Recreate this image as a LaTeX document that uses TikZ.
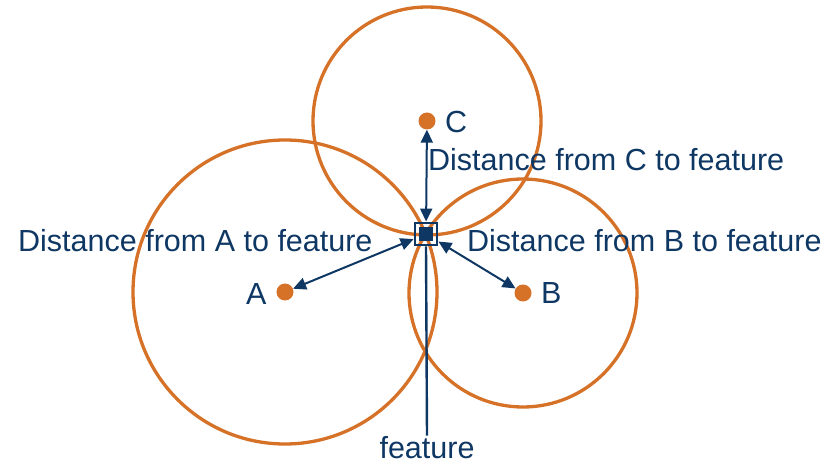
\documentclass[tikz,border=0pt]{standalone}
\usepackage{fontspec}
\setmainfont{Liberation Sans}
\usepackage{xcolor}
\usetikzlibrary{arrows.meta,positioning}
\definecolor{navy}{RGB}{14,55,100}
\definecolor{rust}{RGB}{214,113,40}
\tikzset{
  ring/.style  ={draw=rust, line width=3.3pt},
  dot/.style   ={circle, fill=rust, minimum size=17pt, inner sep=0pt},
  feat/.style  ={rectangle, fill=navy, minimum size=14pt, inner sep=0pt},
  frame/.style ={rectangle, draw=navy, line width=2.8pt, minimum size=22pt, inner sep=0pt},
  lbl/.style   ={text=navy, font=\fontsize{30.5}{34}\selectfont, inner sep=0pt, anchor=base west},
  darr/.style  ={{Triangle[length=13pt,width=12pt]}-{Triangle[length=13pt,width=12pt]}, draw=navy, fill=navy, line width=2pt},
  stem/.style  ={draw=navy, line width=2.4pt},
}
\begin{document}
\begin{tikzpicture}[x=1pt, y=-1pt]
  \useasboundingbox (0,0) rectangle (825,465);
  % --- points and their circles ---
  \node[dot] (a) at (285,292) {};
  \node[dot] (b) at (523,293) {};
  \node[dot] (c) at (427,121) {};
  \draw[ring] (a) circle[radius=152pt];
  \draw[ring] (b) circle[radius=114pt];
  \draw[ring] (c) circle[radius=114pt];
  % --- feature marker ---
  \node[feat] (f) at (426,234) {};
  \node[frame] (fb) at (f) {};
  % --- labels ---
  \node[lbl] (la) at (246,305) {A};
  \node[lbl] (lb) at (541,304) {B};
  \node[lbl] (lc) at (445,133) {C};
  \node[lbl] (da) at (18,252) {Distance from A to feature};
  \node[lbl] (db) at (467,252) {Distance from B to feature};
  \node[lbl] (dc) at (428,171) {Distance from C to feature};
  \node[lbl, anchor=base] (fl) at (427,458) {feature};
  % --- distances ---
  \draw[darr] (fb) -- (a);
  \draw[darr] (fb) -- (b);
  \draw[darr] (fb) -- (c);
  \draw[stem] (fb.south) -- (fl.north);
\end{tikzpicture}
\end{document}
